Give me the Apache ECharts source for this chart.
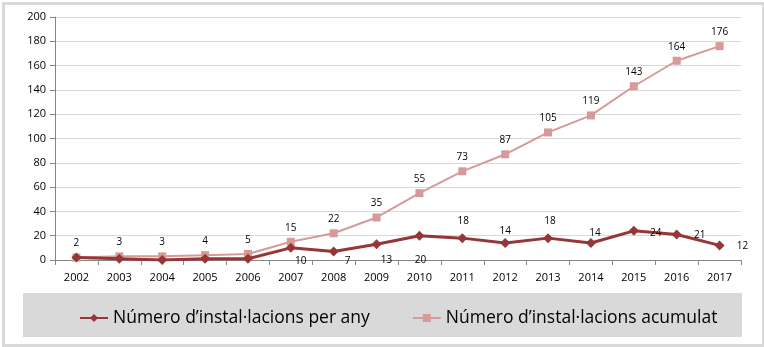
<!DOCTYPE html>
<html><head><meta charset="utf-8">
<script src="https://cdn.jsdelivr.net/npm/echarts@6/dist/echarts.min.js"></script>
<style>html,body{margin:0;padding:0;background:#fff}#c{width:764px;height:347px}</style>
</head><body><div id="c"></div>
<script>
const years = ['2002','2003','2004','2005','2006','2007','2008','2009','2010','2011','2012','2013','2014','2015','2016','2017'];
const perYear = [2,1,0,1,1,10,7,13,20,18,14,18,14,24,21,12];
const cumulative = [2,3,3,4,5,15,22,35,55,73,87,105,119,143,164,176];
const yTicks = [0,20,40,60,80,100,120,140,160,180,200];
// per-year label placement offsets (null = no label)
const perYearLabelOffset = [null,null,null,null,null,[10,13],[14,10],[10,16],[1,24],[1,-17],[0,-12],[2,-17],[4,-10],[22,2],[23,1],[23,1]];

const chart = echarts.init(document.getElementById('c'));
const font = 'Open Sans, sans-serif';
chart.setOption({
  animation:false,
  graphic:[
    {type:'rect', left:1, top:1, shape:{x:0,y:0,width:760,height:342}, style:{fill:'none', stroke:'#d9d9d9', lineWidth:3}, z:-10},
    {type:'rect', shape:{x:23,y:293,width:719,height:44}, style:{fill:'#d9d9d9'}, z:-5}
  ],
  grid:{left:55, right:23, top:17, bottom:87},
  legend:{
    top:304, left:74, itemGap:42, itemWidth:28, itemHeight:10,
    textStyle:{fontFamily:font, fontSize:17.5, color:'#000'},
    data:['Número d’instal·lacions per any','Número d’instal·lacions acumulat']
  },
  xAxis:{
    type:'category', data:years, boundaryGap:true,
    axisLine:{lineStyle:{color:'#868686'}},
    axisTick:{show:true, alignWithLabel:false, length:5, lineStyle:{color:'#868686'}},
    axisLabel:{color:'#000', fontSize:11, fontFamily:font, margin:12}
  },
  yAxis:{
    type:'value', min:0, max:200, interval:20,
    axisLine:{show:true, lineStyle:{color:'#868686'}},
    axisTick:{show:true, length:5, lineStyle:{color:'#868686'}},
    splitLine:{lineStyle:{color:'#d9d9d9'}},
    axisLabel:{color:'#000', fontSize:11, fontFamily:font, margin:9,
      formatter:v=> yTicks.includes(v)? String(v):''}
  },
  series:[
    {
      name:'Número d’instal·lacions acumulat', type:'line', data:cumulative,
      symbol:'rect', symbolSize:8,
      lineStyle:{color:'#d59a99', width:2},
      itemStyle:{color:'#d59a99'},
      label:{show:true, position:'top', distance:5, color:'#000', fontSize:10, fontFamily:font},
      z:2
    },
    {
      name:'Número d’instal·lacions per any', type:'line', data:perYear.map((v,i)=>({
        value:v,
        label: perYearLabelOffset[i] ? {show:true, position:'inside', offset:perYearLabelOffset[i]} : {show:false}
      })),
      symbol:'diamond', symbolSize:10,
      lineStyle:{color:'#963636', width:3},
      itemStyle:{color:'#963636'},
      label:{color:'#000', fontSize:10, fontFamily:font},
      z:3
    }
  ]
});
</script></body></html>
